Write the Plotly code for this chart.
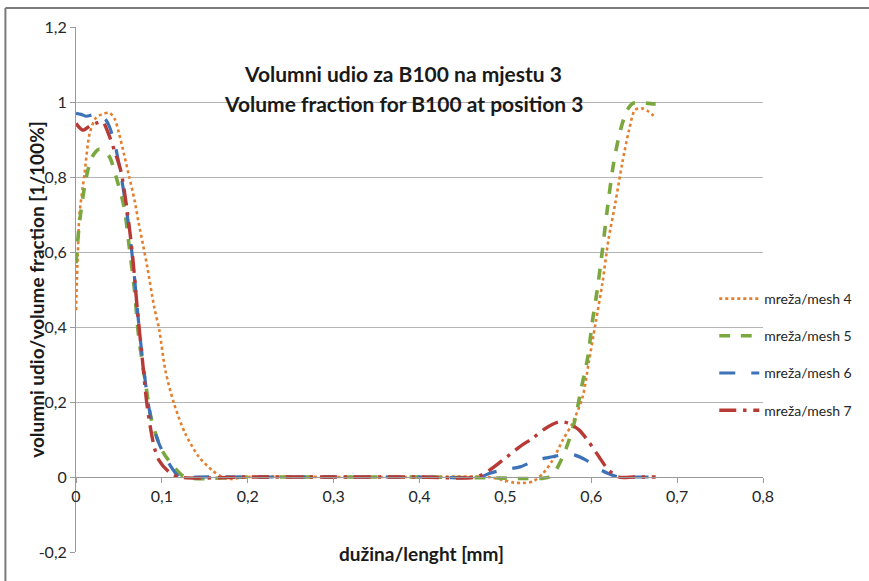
import plotly.graph_objects as go

# --- data: length [mm] vs. volume fraction for four mesh resolutions ---
x_m4 = [0.0, 0.002, 0.004, 0.010, 0.016, 0.023, 0.030, 0.039, 0.045, 0.050, 0.056, 0.062, 0.068,
        0.073, 0.078, 0.083, 0.091, 0.097, 0.104, 0.114, 0.127, 0.143, 0.158, 0.170, 0.180, 0.20,
        0.30, 0.40, 0.48, 0.497, 0.510, 0.520, 0.532, 0.544, 0.555, 0.567, 0.578, 0.590, 0.597,
        0.605, 0.613, 0.620, 0.628, 0.636, 0.644, 0.651, 0.659, 0.667, 0.675]
y_m4 = [0.445, 0.59, 0.70, 0.81, 0.917, 0.957, 0.967, 0.971, 0.955, 0.917, 0.86, 0.80, 0.74,
        0.677, 0.62, 0.56, 0.454, 0.392, 0.285, 0.197, 0.117, 0.054, 0.019, 0.0, -0.005, 0.0,
        0.0, 0.0, 0.0, -0.008, -0.015, -0.016, -0.012, 0.01, 0.045, 0.099, 0.143, 0.214, 0.304,
        0.41, 0.517, 0.632, 0.73, 0.836, 0.925, 0.979, 0.983, 0.974, 0.958]

x_m5 = [0.0, 0.004, 0.012, 0.019, 0.027, 0.033, 0.039, 0.048, 0.056, 0.062, 0.068, 0.073, 0.081,
        0.088, 0.100, 0.114, 0.127, 0.20, 0.30, 0.40, 0.50, 0.52, 0.545, 0.551, 0.559, 0.570,
        0.580, 0.588, 0.596, 0.601, 0.607, 0.613, 0.619, 0.626, 0.634, 0.642, 0.649, 0.660,
        0.671, 0.675]
y_m5 = [0.57, 0.677, 0.80, 0.854, 0.874, 0.868, 0.854, 0.79, 0.72, 0.614, 0.50, 0.374, 0.25,
        0.152, 0.072, 0.027, 0.0, 0.0, 0.0, 0.0, -0.003, -0.004, -0.003, 0.0, 0.019, 0.072,
        0.143, 0.232, 0.32, 0.41, 0.499, 0.605, 0.72, 0.836, 0.925, 0.979, 0.997, 0.998,
        0.995, 0.995]

x_m6 = [0.0, 0.006, 0.012, 0.018, 0.024, 0.029, 0.034, 0.039, 0.046, 0.054, 0.062, 0.068, 0.073,
        0.079, 0.087, 0.0965, 0.108, 0.122, 0.14, 0.20, 0.30, 0.40, 0.47, 0.482, 0.497, 0.517,
        0.536, 0.555, 0.570, 0.580, 0.594, 0.605, 0.619, 0.632, 0.65, 0.675]
y_m6 = [0.97, 0.967, 0.962, 0.965, 0.968, 0.965, 0.955, 0.934, 0.88, 0.783, 0.659, 0.534, 0.41,
        0.285, 0.16, 0.09, 0.037, -0.003, 0.0, 0.0, 0.0, 0.0, 0.0, 0.01, 0.019, 0.027,
        0.045, 0.054, 0.061, 0.059, 0.045, 0.027, 0.01, 0.0, 0.0, 0.0]

x_m7 = [0.0, 0.008, 0.016, 0.023, 0.031, 0.037, 0.0445, 0.052, 0.060, 0.066, 0.0715, 0.077,
        0.083, 0.091, 0.0965, 0.108, 0.120, 0.20, 0.30, 0.40, 0.466, 0.482, 0.497, 0.517, 0.532,
        0.547, 0.563, 0.574, 0.586, 0.597, 0.609, 0.620, 0.632, 0.65, 0.675]
y_m7 = [0.943, 0.925, 0.936, 0.943, 0.947, 0.92, 0.872, 0.818, 0.703, 0.587, 0.445, 0.32,
        0.187, 0.081, 0.045, 0.014, 0.0, 0.0, 0.0, 0.0, 0.0, 0.019, 0.045, 0.081, 0.104,
        0.13, 0.147, 0.143, 0.125, 0.094, 0.054, 0.019, 0.0, 0.0, 0.0]

names = ["mreža/mesh 4", "mreža/mesh 5", "mreža/mesh 6", "mreža/mesh 7"]
x_ticks = [0, 0.1, 0.2, 0.3, 0.4, 0.5, 0.6, 0.7, 0.8]
x_tick_labels = ["0", "0,1", "0,2", "0,3", "0,4", "0,5", "0,6", "0,7", "0,8"]
y_ticks = [-0.2, 0, 0.2, 0.4, 0.6, 0.8, 1.0, 1.2]
y_tick_labels = ["-0,2", "0", "0,2", "0,4", "0,6", "0,8", "1", "1,2"]

FONT = "Lato, 'Open Sans', sans-serif"
GRID = "#9a9a9a"

series = [
    (x_m4, y_m4, names[0], "#E47F2E", "dot", 2.6),
    (x_m5, y_m5, names[1], "#7BA73F", "dash", 3.6),
    (x_m6, y_m6, names[2], "#3C72B8", "longdash", 3.2),
    (x_m7, y_m7, names[3], "#B73A37", "longdashdot", 3.4),
]

fig = go.Figure()
for i, (xs, ys, nm, col, dash, w) in enumerate(series):
    fig.add_trace(go.Scatter(
        x=xs, y=ys, name=nm, mode="lines",
        line=dict(color=col, dash=dash, width=w, shape="spline", smoothing=0.8),
        legendgroup=f"g{i}",
    ))

# y = 0 sits at 1/7 of the vertical domain for a range of [-0.2, 1.2]
zero_pos = (0 - y_ticks[0]) / (y_ticks[-1] - y_ticks[0])

PW = 691  # plot width in px
PH = 525  # plot height in px


def px_x(p):
    return (p - 76) / PW


def px_y(p):
    return (552 - p) / PH


fig.update_layout(
    width=869, height=581,
    margin=dict(l=76, r=102, t=27, b=29),
    paper_bgcolor="white", plot_bgcolor="white",
    font=dict(family=FONT, size=16, color="#262626"),
    showlegend=True,
    legend=dict(x=px_x(718), y=px_y(283), xanchor="left", yanchor="top",
                font=dict(size=14, color="#262626"), tracegroupgap=16,
                bgcolor="rgba(0,0,0,0)", itemwidth=40),
    xaxis=dict(range=[0, 0.8], tickvals=x_ticks, ticktext=x_tick_labels,
               showgrid=False, zeroline=False, showline=True, linecolor=GRID, linewidth=1,
               ticks="outside", ticklen=5, tickcolor=GRID,
               anchor="free", position=zero_pos,
               tickfont=dict(size=16, color="#262626")),
    yaxis=dict(range=[-0.2, 1.2], tickvals=y_ticks, ticktext=y_tick_labels,
               showgrid=True, gridcolor="#b4b4b4", gridwidth=1, zeroline=False,
               showline=True, linecolor=GRID, linewidth=1,
               ticks="outside", ticklen=5, tickcolor=GRID,
               tickfont=dict(size=16, color="#262626")),
)

# chart titles and axis titles
fig.add_annotation(text="<b>Volumni udio za B100 na mjestu 3</b>", xref="paper", yref="paper",
                   x=px_x(405), y=px_y(59), showarrow=False,
                   font=dict(size=21, color="#1a1a1a", family=FONT))
fig.add_annotation(text="<b>Volume fraction for B100 at position 3</b>", xref="paper", yref="paper",
                   x=px_x(405), y=px_y(89), showarrow=False,
                   font=dict(size=21, color="#1a1a1a", family=FONT))
fig.add_annotation(text="<b>dužina/lenght [mm]</b>", xref="paper", yref="paper",
                   x=px_x(424), y=px_y(567), showarrow=False,
                   font=dict(size=19, color="#1a1a1a", family=FONT))
fig.add_annotation(text="<b>volumni udio/volume fraction [1/100%]</b>", xref="paper", yref="paper",
                   x=px_x(22), y=px_y(290), showarrow=False, textangle=-90,
                   font=dict(size=19, color="#1a1a1a", family=FONT))

# outer frame of the chart (top and left edges)
fig.add_shape(type="line", xref="paper", yref="paper",
              x0=px_x(5), x1=px_x(875), y0=px_y(8), y1=px_y(8),
              line=dict(color="#7a7a7a", width=2), layer="below")
fig.add_shape(type="line", xref="paper", yref="paper",
              x0=px_x(5), x1=px_x(5), y0=px_y(8), y1=px_y(590),
              line=dict(color="#7a7a7a", width=2), layer="below")

fig.write_html("out.html")
